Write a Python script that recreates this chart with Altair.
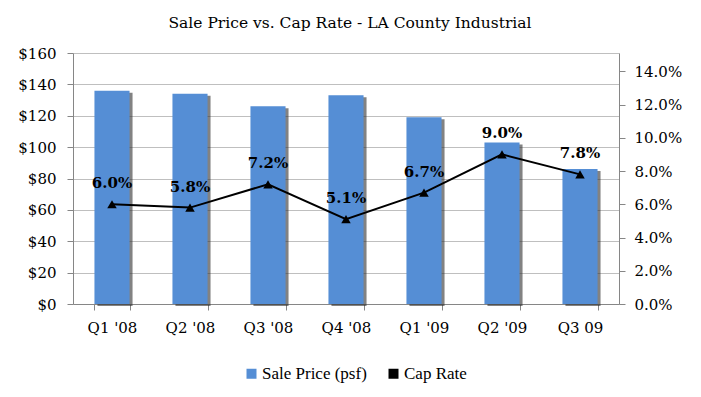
import altair as alt
import pandas as pd

quarters = ["Q1 '08", "Q2 '08", "Q3 '08", "Q4 '08", "Q1 '09", "Q2 '09", "Q3 09"]
sale_price = [136, 134, 126, 133, 119, 103, 86]
cap_rate = [0.060, 0.058, 0.072, 0.051, 0.067, 0.090, 0.078]
cap_labels = ["6.0%", "5.8%", "7.2%", "5.1%", "6.7%", "9.0%", "7.8%"]
left_ticks = [0, 20, 40, 60, 80, 100, 120, 140, 160]
right_ticks = [0, 0.02, 0.04, 0.06, 0.08, 0.10, 0.12, 0.14]
series_names = ["Sale Price (psf)", "Cap Rate"]
series_colors = ["#558ed5", "#000000"]

df = pd.DataFrame({
    "quarter": quarters,
    "price": sale_price,
    "cap": cap_rate,
    "label": cap_labels,
    "series": series_names[0],
})

SERIF = "DejaVu Serif"
LEG = "Liberation Serif"

x_enc = alt.X("quarter:N", sort=quarters, title=None,
              scale=alt.Scale(paddingInner=0.55, paddingOuter=0.275),
              axis=alt.Axis(labelAngle=0, labelFont=SERIF, labelFontSize=15,
                            labelColor="#000000", labelPadding=10,
                            domainColor="#868686", tickColor="#868686",
                            tickSize=6, tickBand="extent", grid=False))

y_left = alt.Y("price:Q", title=None,
               scale=alt.Scale(domain=[0, 160], nice=False),
               axis=alt.Axis(values=left_ticks, format="$d", labelFont=SERIF,
                             labelFontSize=15, labelColor="#000000",
                             labelPadding=11, tickSize=6, tickColor="#868686",
                             domainColor="#868686", grid=True,
                             gridColor="#bfbfbf", orient="left"))

y_right = alt.Y("cap:Q", title=None,
                scale=alt.Scale(domain=[0, 0.151], nice=False),
                axis=alt.Axis(values=right_ticks, format=".1%", orient="right",
                              labelFont=SERIF, labelFontSize=15,
                              labelColor="#000000", labelPadding=9, tickSize=6,
                              tickColor="#868686", domainColor="#868686",
                              grid=False))

shadow = alt.Chart(df).mark_bar(color="#2e2e2e", opacity=0.6, xOffset=3,
                                yOffset=2).encode(x=x_enc, y=y_left)

bars = alt.Chart(df).mark_bar().encode(
    x=x_enc,
    y=y_left,
    color=alt.Color("series:N", title=None,
                    scale=alt.Scale(domain=series_names, range=series_colors),
                    legend=alt.Legend(orient="none", legendX=170, legendY=312,
                                      direction="horizontal", symbolType="square",
                                      symbolSize=100, labelFont=LEG,
                                      labelFontSize=17, labelColor="#000000",
                                      labelOffset=2, columnPadding=18,
                                      symbolStrokeWidth=0)),
)

left = alt.layer(shadow, bars)

line = alt.Chart(df).mark_line(color="#000000", strokeWidth=2).encode(
    x=x_enc, y=y_right)

points = alt.Chart(df).mark_point(shape="triangle-up", filled=True, size=90,
                                  color="#000000", opacity=1).encode(
    x=x_enc, y=y_right)

labels = alt.Chart(df).mark_text(font=SERIF, fontSize=15, fontWeight="bold",
                                 color="#000000", dy=-21).encode(
    x=x_enc, y=y_right, text="label:N")

right = alt.layer(line, points, labels)

chart = alt.layer(left, right).resolve_scale(y="independent").properties(
    width=546,
    height=251,
    autosize=alt.AutoSizeParams(type="none"),
    padding={"left": 65, "top": 45, "right": 74, "bottom": 85},
    title=alt.Title("Sale Price vs. Cap Rate - LA County Industrial",
                    font=SERIF, fontSize=15.5, fontWeight="normal",
                    color="#000000", anchor="middle", offset=15, dx=4),
).configure_view(stroke=None)

chart.save("out.html", embed_options={"renderer": "svg", "actions": False})
